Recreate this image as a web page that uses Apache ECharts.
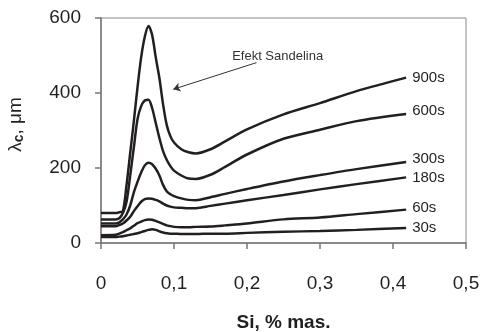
<!DOCTYPE html>
<html>
<head>
<meta charset="utf-8">
<script src="https://cdn.jsdelivr.net/npm/echarts@6/dist/echarts.min.js"></script>
<style>
  html, body { margin: 0; padding: 0; background: #fff; }
  #chart { width: 481px; height: 332px; }
</style>
</head>
<body>
<div id="chart"></div>
<script>
// Si content, % mas.
const siValues = [0, 0.02, 0.025, 0.03, 0.035, 0.04, 0.045, 0.05, 0.055, 0.06, 0.065, 0.07, 0.075, 0.08,
  0.085, 0.09, 0.095, 0.1, 0.11, 0.12, 0.13, 0.15, 0.17, 0.2, 0.25, 0.3, 0.35, 0.418]

// lambda_c, um for each annealing time
const t900 = [80, 80, 82, 85, 155, 240, 325, 415, 495, 550, 579, 555, 495, 440,
  370, 315, 285, 268, 250, 242, 239, 250, 271, 303, 343, 373, 405, 441]
const t600 = [63, 63, 66, 80, 110, 180, 255, 330, 365, 380, 382, 360, 320, 280,
  245, 222, 205, 193, 180, 172, 171, 182, 203, 236, 278, 302, 325, 344]
const t300 = [52, 52, 55, 63, 76, 100, 135, 163, 188, 207, 214, 210, 198, 180,
  155, 138, 130, 125, 119, 115, 114, 122, 131, 144, 164, 181, 197, 216]
const t180 = [45, 45, 48, 52, 60, 70, 85, 98, 110, 117, 119, 118, 115, 111,
  105, 100, 97, 95, 94, 93, 93, 99, 105, 114, 128, 143, 157, 175]
const t60 = [21, 22, 25, 29, 34, 39, 46, 53, 57, 61, 63, 62, 59, 55,
  51, 47, 45, 43, 42, 42, 43, 44, 47, 52, 63, 68, 77, 89]
const t30 = [16, 16, 17, 18, 20, 22, 24, 26, 29, 32, 35, 37, 35, 31,
  28, 26, 25, 25, 24, 24, 24, 25, 25, 27, 30, 32, 35, 40]

const seriesNames = ['900s', '600s', '300s', '180s', '60s', '30s']
const seriesValues = [t900, t600, t300, t180, t60, t30]
const labelShift = [0, -3, -3, 0, -2, 0]

const annotationText = 'Efekt Sandelina'
const annotationAt = [0.242, 498]
const arrowFrom = [0.213, 481]
const arrowTo = [0.099, 410]

const lineColor = '#231f20'
const chart = echarts.init(document.getElementById('chart'))

const series = seriesNames.map((name, i) => ({
  name: name,
  type: 'line',
  data: siValues.map((x, j) => [x, seriesValues[i][j]]),
  smooth: 0.3,
  showSymbol: false,
  lineStyle: { color: lineColor, width: 2.5 },
  endLabel: {
    show: true,
    formatter: '{a}',
    distance: 6,
    offset: [0, labelShift[i]],
    color: '#231f20',
    fontSize: 15,
    fontFamily: 'Liberation Sans'
  },
  animation: false
}))

// arrow and note sit on the 900s curve
series[0].markLine = {
  silent: true,
  symbol: ['none', 'arrow'],
  symbolSize: 7,
  lineStyle: { color: '#333', width: 1, type: 'solid' },
  label: { show: false },
  data: [[{ coord: arrowFrom }, { coord: arrowTo }]],
  animation: false
}
series[0].markPoint = {
  silent: true,
  symbol: 'circle',
  symbolSize: 1,
  itemStyle: { color: 'rgba(0,0,0,0)' },
  label: {
    show: true,
    position: 'inside',
    formatter: annotationText,
    color: '#333',
    fontSize: 13,
    fontFamily: 'Liberation Sans'
  },
  data: [{ coord: annotationAt }],
  animation: false
}

chart.setOption({
  backgroundColor: '#fff',
  animation: false,
  grid: {
    left: 101,
    right: 15,
    top: 18,
    bottom: 89,
    outerBoundsMode: 'none',
    show: true,
    borderColor: '#888',
    borderWidth: 1
  },
  xAxis: {
    type: 'value',
    min: 0,
    max: 0.5,
    interval: 0.1,
    name: 'Si, % mas.',
    nameLocation: 'middle',
    nameGap: 70,
    nameTextStyle: { color: '#231f20', fontSize: 19, fontWeight: 'bold', fontFamily: 'Liberation Sans' },
    axisLine: { lineStyle: { color: '#777', width: 1.5 } },
    axisTick: { show: true, inside: false, length: 6, lineStyle: { color: '#777', width: 1.5 } },
    axisLabel: {
      color: '#231f20',
      fontSize: 19,
      fontFamily: 'Liberation Sans',
      margin: 31,
      formatter: v => String(Math.round(v * 10) / 10).replace('.', ',')
    },
    splitLine: { show: false }
  },
  yAxis: {
    type: 'value',
    min: 0,
    max: 600,
    interval: 200,
    name: '{a|λ}{b|c}{a|, μm}',
    nameLocation: 'middle',
    nameRotate: 90,
    nameGap: 75,
    nameTextStyle: {
      color: '#231f20',
      fontFamily: 'Liberation Sans',
      padding: [0, 0, 0, 12],
      rich: {
        a: { fontSize: 19, color: '#231f20', fontFamily: 'Liberation Sans' },
        b: { fontSize: 14, fontWeight: 'bold', color: '#231f20', fontFamily: 'Liberation Sans', verticalAlign: 'bottom', padding: [7, 0, 0, 0] }
      }
    },
    axisLine: { show: true, lineStyle: { color: '#777', width: 1.5 } },
    axisTick: { show: true, inside: false, length: 6, lineStyle: { color: '#777', width: 1.5 } },
    axisLabel: { color: '#231f20', fontSize: 19, fontFamily: 'Liberation Sans', margin: 20 },
    splitLine: { show: false }
  },
  series: series
})
</script>
</body>
</html>
